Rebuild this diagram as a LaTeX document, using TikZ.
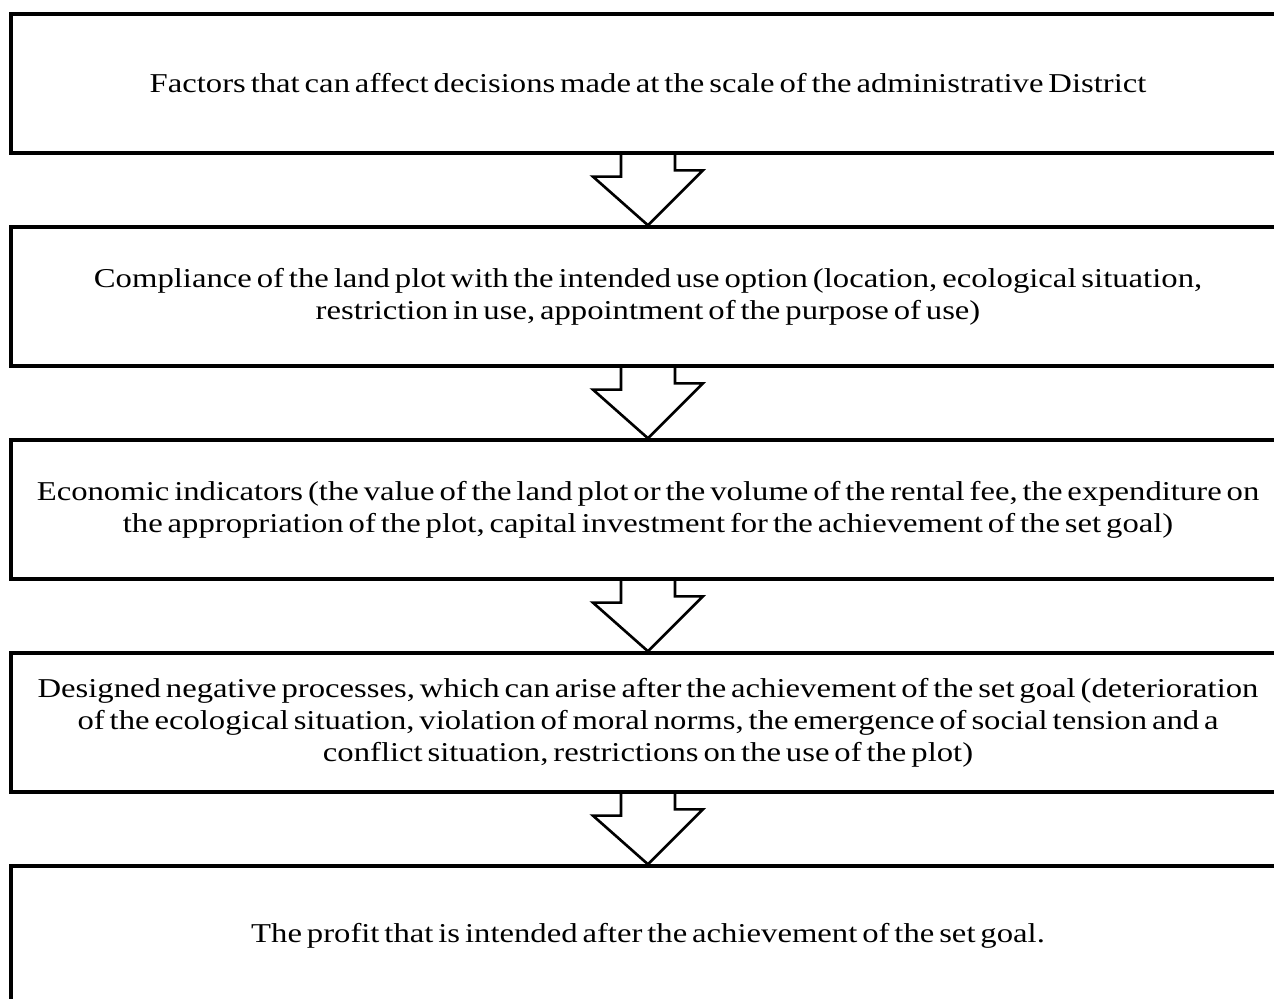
\documentclass[tikz,border=0pt]{standalone}
\usepackage{fontspec}
\setmainfont[FakeStretch=1.2, WordSpace=0.6]{Liberation Serif}
\begin{document}
\begin{tikzpicture}[node distance=4.26cm,
    stage/.style={draw, line width=1.9pt, minimum width=25.48cm, minimum height=2.78cm,
        inner sep=0pt, align=center, font=\fontsize{15.5}{18.2}\selectfont},
    flow/.style={line width=1.5pt, line join=miter}]
        \useasboundingbox (0,0) rectangle (25.48,-19.98);
        \node(Factors)      [stage] at (12.96,-1.67) {Factors that can affect decisions made at the scale of the administrative District};
        \node(Compliance)   [stage, below of=Factors] {Compliance of the land plot with the intended use option (location, ecological situation,\\ restriction in use, appointment of the purpose of use)};
        \node(Economic)     [stage, below of=Compliance] {Economic indicators (the value of the land plot or the volume of the rental fee, the expenditure on\\ the appropriation of the plot, capital investment for the achievement of the set goal)};
        \node(Negative)     [stage, below of=Economic] {Designed negative processes, which can arise after the achievement of the set goal (deterioration\\ of the ecological situation, violation of moral norms, the emergence of social tension and a\\ conflict situation, restrictions on the use of the plot)};
        \node(Profit)       [stage, below of=Negative] {The profit that is intended after the achievement of the set goal.};
        % hollow arrows between the stages
        \draw[flow] ([xshift=-0.54cm]Factors.south) -- ++(0,-0.44) -- ++(-0.56,0) -- (Compliance.north) -- ++(1.1,1.1) -- ++(-0.56,0) -- ([xshift=0.54cm]Factors.south);
        \draw[flow] ([xshift=-0.54cm]Compliance.south) -- ++(0,-0.44) -- ++(-0.56,0) -- (Economic.north) -- ++(1.1,1.1) -- ++(-0.56,0) -- ([xshift=0.54cm]Compliance.south);
        \draw[flow] ([xshift=-0.54cm]Economic.south) -- ++(0,-0.44) -- ++(-0.56,0) -- (Negative.north) -- ++(1.1,1.1) -- ++(-0.56,0) -- ([xshift=0.54cm]Economic.south);
        \draw[flow] ([xshift=-0.54cm]Negative.south) -- ++(0,-0.44) -- ++(-0.56,0) -- (Profit.north) -- ++(1.1,1.1) -- ++(-0.56,0) -- ([xshift=0.54cm]Negative.south);
\end{tikzpicture}
\end{document}
